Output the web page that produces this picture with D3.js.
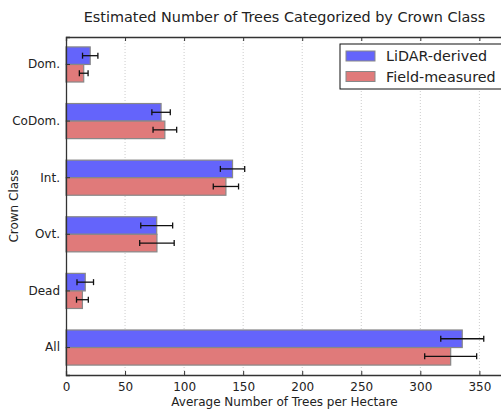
<!DOCTYPE html>
<html>
<head>
<meta charset="utf-8">
<script src="https://cdn.jsdelivr.net/npm/d3@7"></script>
<style>
  body { margin: 0; background: #fff; }
  text { font-family: "DejaVu Sans", sans-serif; fill: #222; }
</style>
</head>
<body>
<div id="chart"></div>
<script>
var classes = ['Dom.', 'CoDom.', 'Int.', 'Ovt.', 'Dead', 'All'];
var lidarMean = [20.5, 80.5, 141, 76.8, 16.3, 335.5];
var lidarErr = [6.5, 7.8, 10.3, 13.5, 7, 18.2];
var fieldMean = [15, 83.7, 135.4, 77, 13.9, 325.7];
var fieldErr = [3.7, 10, 10.7, 14.6, 5, 22];
var xTicks = [0, 50, 100, 150, 200, 250, 300, 350];

var margin = { top: 37, right: -2, bottom: 35, left: 66 },
  width = 501 - margin.left - margin.right,
  height = 410 - margin.top - margin.bottom;

var svg = d3.select("#chart")
  .append("svg")
  .attr("width", 501)
  .attr("height", 410)
  .append("g")
  .attr("transform", "translate(" + margin.left + "," + margin.top + ")");

var x = d3.scaleLinear().domain([0, 370]).range([0, width]);
var y = d3.scaleBand().domain(classes).range([0, height])
  .paddingInner(0.38).paddingOuter(0.175);

// dotted grid
svg.selectAll(".grid")
  .data(xTicks.slice(1))
  .enter().append("line")
  .attr("x1", function (d) { return x(d); })
  .attr("x2", function (d) { return x(d); })
  .attr("y1", 0).attr("y2", height)
  .attr("stroke", "#ccc")
  .attr("stroke-dasharray", "1,2");

var rows = classes.map(function (c, i) {
  return [
    { c: c, v: lidarMean[i], e: lidarErr[i], s: 0 },
    { c: c, v: fieldMean[i], e: fieldErr[i], s: 1 }
  ];
}).flat();

var colors = ["#6464fb", "#e07a7a"];
var half = y.bandwidth() / 2;

svg.selectAll(".bar")
  .data(rows)
  .enter().append("rect")
  .attr("x", x(0))
  .attr("y", function (d) { return y(d.c) + d.s * half; })
  .attr("width", function (d) { return x(d.v) - x(0); })
  .attr("height", half)
  .attr("fill", function (d) { return colors[d.s]; })
  .attr("stroke", "#888")
  .attr("stroke-width", 1.2);

// error bars
var eb = svg.selectAll(".err")
  .data(rows)
  .enter().append("g")
  .attr("stroke", "#111")
  .attr("stroke-width", 1.3);
eb.append("line")
  .attr("x1", function (d) { return x(d.v - d.e); })
  .attr("x2", function (d) { return x(d.v + d.e); })
  .attr("y1", function (d) { return y(d.c) + d.s * half + half / 2; })
  .attr("y2", function (d) { return y(d.c) + d.s * half + half / 2; });
[-1, 1].forEach(function (sign) {
  eb.append("line")
    .attr("x1", function (d) { return x(d.v + sign * d.e); })
    .attr("x2", function (d) { return x(d.v + sign * d.e); })
    .attr("y1", function (d) { return y(d.c) + d.s * half + half / 2 - 3; })
    .attr("y2", function (d) { return y(d.c) + d.s * half + half / 2 + 3; });
});

// axes
var xAxis = svg.append("g")
  .attr("transform", "translate(0," + height + ")")
  .call(d3.axisBottom(x).tickValues(xTicks).tickSize(-4).tickPadding(7));
var xTop = svg.append("g")
  .call(d3.axisTop(x).tickValues(xTicks).tickSize(-4).tickFormat(""));
var yAxis = svg.append("g")
  .call(d3.axisLeft(y).tickSize(-4).tickPadding(6));

[xAxis, xTop, yAxis].forEach(function (a) {
  a.select(".domain").attr("stroke", "#333").attr("stroke-width", 1.3);
  a.selectAll(".tick line").attr("stroke", "#333");
  a.selectAll("text").style("font-size", "12px").attr("fill", "#222");
});

// title and labels
svg.append("text")
  .attr("x", width / 2).attr("y", -15)
  .attr("text-anchor", "middle")
  .style("font-size", "14.4px")
  .text("Estimated Number of Trees Categorized by Crown Class");

svg.append("text")
  .attr("x", x(185)).attr("y", height + 31)
  .attr("text-anchor", "middle")
  .style("font-size", "12px")
  .text("Average Number of Trees per Hectare");

svg.append("text")
  .attr("transform", "translate(-48," + (height / 2) + ") rotate(-90)")
  .attr("text-anchor", "middle")
  .style("font-size", "12px")
  .text("Crown Class");

// legend
var legend = svg.append("g")
  .attr("transform", "translate(" + (340 - margin.left) + "," + (44 - margin.top) + ")");
legend.append("rect")
  .attr("width", 162).attr("height", 45)
  .attr("fill", "#fff").attr("stroke", "#111").attr("stroke-width", 1);
["LiDAR-derived", "Field-measured"].forEach(function (name, i) {
  legend.append("rect")
    .attr("x", 6).attr("y", 7 + i * 20.5)
    .attr("width", 29).attr("height", 10)
    .attr("fill", colors[i]).attr("stroke", "#888");
  legend.append("text")
    .attr("x", 46).attr("y", 17 + i * 20.5)
    .style("font-size", "14.3px")
    .text(name);
});
</script>
</body>
</html>
